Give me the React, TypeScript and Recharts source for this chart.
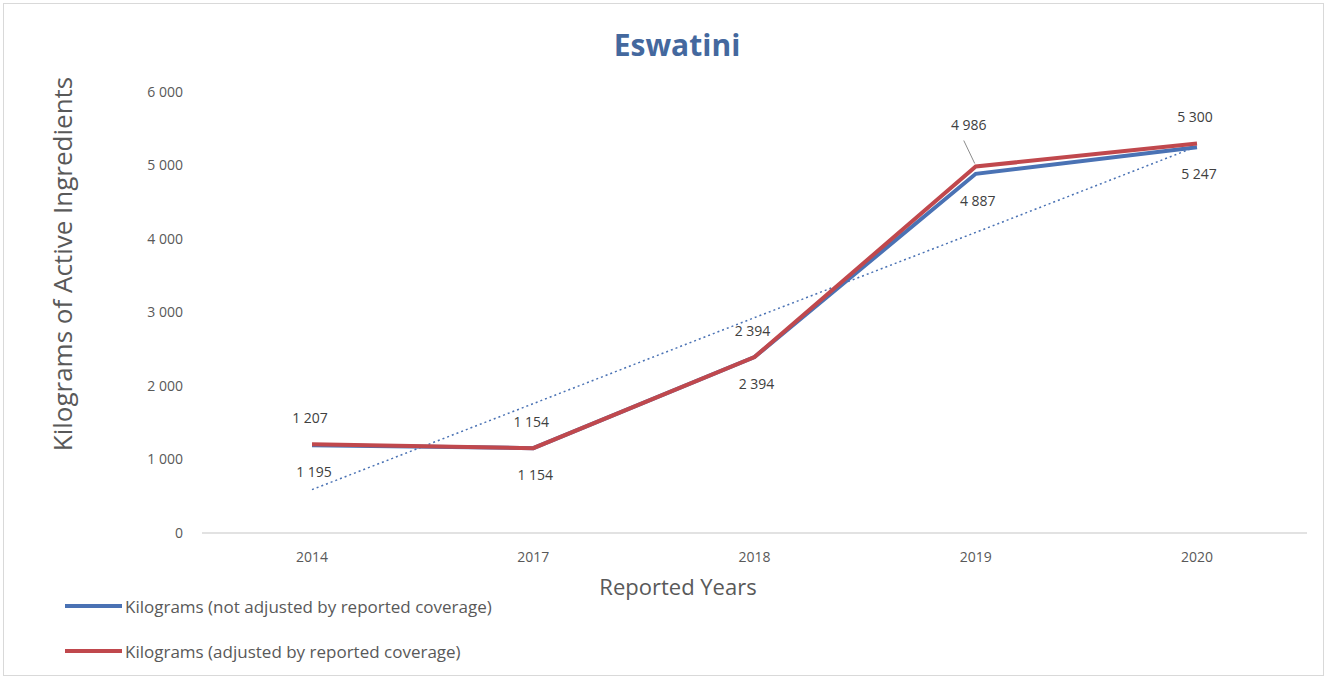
import { Line, LineChart, XAxis, YAxis } from "recharts";

const years = ["2014", "2017", "2018", "2019", "2020"];
const notAdjusted = [1195, 1154, 2394, 4887, 5247];
const adjusted = [1207, 1154, 2394, 4986, 5300];
// dotted trend line
const trend = [590, 1760, 2930, 4090, 5260];
const yTicks = [0, 1000, 2000, 3000, 4000, 5000, 6000];

const seriesNames = [
  "Kilograms (not adjusted by reported coverage)",
  "Kilograms (adjusted by reported coverage)",
];

const BLUE = "#4a72b4";
const RED = "#c0484d";
const FONT = "'Open Sans', Lato, sans-serif";

const data = years.map((year, i) => ({
  year,
  notAdjusted: notAdjusted[i],
  adjusted: adjusted[i],
  trend: trend[i],
}));

const fmt = (v: number) => String(v).replace(/\B(?=(\d{3})+(?!\d))/g, " ");

function BelowLabel(props: any) {
  const { x, y, value } = props;
  return (
    <text x={x + 2} y={y + 28} textAnchor="middle" dominantBaseline="middle" fontSize={14} fill="#404040" fontFamily={FONT}>
      {fmt(value)}
    </text>
  );
}

function AboveLabel(props: any) {
  const { x, y, value, index } = props;
  if (index === 3) {
    return (
      <g>
        <line x1={x - 12} y1={y - 26} x2={x - 1} y2={y - 3} stroke="#8c8c8c" strokeWidth={1} />
        <text x={x - 7} y={y - 40} textAnchor="middle" dominantBaseline="middle" fontSize={14} fill="#404040" fontFamily={FONT}>
          {fmt(value)}
        </text>
      </g>
    );
  }
  return (
    <text x={x - 2} y={y - 25} textAnchor="middle" dominantBaseline="middle" fontSize={14} fill="#404040" fontFamily={FONT}>
      {fmt(value)}
    </text>
  );
}

export default function App() {
  return (
    <div style={{ position: "absolute", left: 0, top: 0, width: 1329, height: 681, background: "#fff", fontFamily: FONT }}>
      <div style={{ position: "absolute", left: 3, top: 3, width: 1319, height: 671, border: "1px solid #d9d9d9" }} />
      <div style={{ position: "absolute", left: 0, width: 1354, top: 24, textAlign: "center", fontSize: 30, fontWeight: 700, color: "#44689e" }}>
        Eswatini
      </div>
      <div
        style={{
          position: "absolute",
          left: 62,
          top: 264,
          transform: "translate(-50%, -50%) rotate(-90deg)",
          whiteSpace: "nowrap",
          fontSize: 26,
          color: "#595959",
        }}
      >
        Kilograms of Active Ingredients
      </div>
      <div style={{ position: "absolute", left: 0, width: 1356, top: 571, textAlign: "center", fontSize: 22, color: "#595959" }}>
        Reported Years
      </div>
      <LineChart width={1329} height={681} data={data} margin={{ top: 92, right: 22, bottom: 118, left: 142 }}>
        <XAxis
          dataKey="year"
          padding={{ left: 110, right: 110 }}
          axisLine={{ stroke: "#d9d9d9", strokeWidth: 1.5 }}
          tickLine={false}
          tickMargin={13}
          height={30}
          tick={{ fontSize: 14, fill: "#595959", fontFamily: FONT }}
        />
        <YAxis
          domain={[0, 6000]}
          ticks={yTicks}
          width={60}
          axisLine={false}
          tickLine={false}
          tickMargin={13}
          tickFormatter={fmt}
          tick={{ fontSize: 14, fill: "#595959", fontFamily: FONT }}
        />
        <Line
          dataKey="trend"
          stroke={BLUE}
          strokeWidth={1.5}
          strokeDasharray="2 3"
          dot={false}
          isAnimationActive={false}
        />
        <Line
          dataKey="notAdjusted"
          name={seriesNames[0]}
          stroke={BLUE}
          strokeWidth={4}
          dot={false}
          label={<BelowLabel />}
          isAnimationActive={false}
        />
        <Line
          dataKey="adjusted"
          name={seriesNames[1]}
          stroke={RED}
          strokeWidth={4}
          dot={false}
          label={<AboveLabel />}
          isAnimationActive={false}
        />
      </LineChart>
      {seriesNames.map((name, i) => (
        <div
          key={name}
          style={{ position: "absolute", left: 65, top: 596 + i * 45, height: 20, display: "flex", alignItems: "center", fontSize: 17, color: "#595959" }}
        >
          <span style={{ display: "inline-block", width: 57, height: 4, background: i === 0 ? BLUE : RED, marginRight: 3 }} />
          {name}
        </div>
      ))}
    </div>
  );
}
